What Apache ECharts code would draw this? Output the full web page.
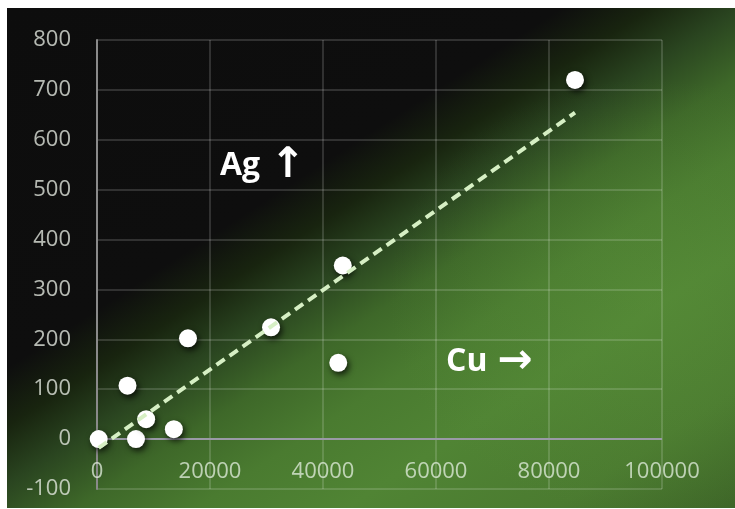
<!DOCTYPE html>
<html><head><meta charset="utf-8">
<script src="https://cdn.jsdelivr.net/npm/echarts@6/dist/echarts.min.js"></script>
<style>
html,body{margin:0;padding:0;background:#fff;width:735px;height:509px;overflow:hidden}
#bg{position:absolute;left:7px;top:8px;width:728px;height:500px;
background:
radial-gradient(ellipse 260px 220px at 88% 58%, rgba(95,150,60,0.30), rgba(95,150,60,0) 100%),
linear-gradient(147deg,#0d0d0d 0%,#0e0e0e 37%,#18240f 43%,#2a4520 49%,#3e6829 56%,#4a7b30 64%,#508434 74%,#4b7b30 88%,#3e6628 100%);}
#chart{position:absolute;left:0;top:0;width:735px;height:509px}
</style></head><body>
<div id="bg"></div><div id="chart"></div>
<script>
// Cu (x) and Ag (y) values
const cuValues = [300, 5400, 6900, 8700, 13600, 16100, 30800, 43500, 42700, 84600];
const agValues = [0, 107, 0, 40, 20, 202, 224, 348, 153, 720];
// tick labels
const xTickLabels = ['0', '20000', '40000', '60000', '80000', '100000'];
const yTickLabels = ['-100', '0', '100', '200', '300', '400', '500', '600', '700', '800'];
const annotations = [['Ag', '↑'], ['Cu', '→']];

const xT = xTickLabels.map(Number), yT = yTickLabels.map(Number);
const points = cuValues.map((x, i) => [x, agValues[i]]);

// linear trendline (least squares) from the data
const n = cuValues.length;
const mx = cuValues.reduce((a, b) => a + b, 0) / n;
const my = agValues.reduce((a, b) => a + b, 0) / n;
let sxy = 0, sxx = 0;
for (let i = 0; i < n; i++) { sxy += (cuValues[i] - mx) * (agValues[i] - my); sxx += (cuValues[i] - mx) ** 2; }
const slope = sxy / sxx, icpt = my - slope * mx;
const xMin = Math.min(...cuValues), xMax = Math.max(...cuValues);
const trend = [[xMin, icpt + slope * xMin], [xMax, icpt + slope * xMax]];

const FONT = '"Open Sans", "DejaVu Sans", sans-serif';
const rich = {
  t: {fontFamily: FONT, fontWeight: 'bold', fontSize: 32, fill: '#ffffff', lineHeight: 44, verticalAlign: 'middle'},
  a: {fontFamily: '"DejaVu Sans", sans-serif', fontWeight: 'bold', fontSize: 42, fill: '#ffffff', lineHeight: 44, verticalAlign: 'middle', padding: [0, 0, 0, 10]}
};
const chart = echarts.init(document.getElementById('chart'), null, {renderer: 'canvas'});
chart.setOption({
  backgroundColor: 'transparent',
  animation: false,
  grid: {left: 97, top: 40, right: 73, bottom: 20, containLabel: false, outerBoundsMode: 'none'},
  xAxis: {
    type: 'value', min: xT[0], max: xT[xT.length - 1], interval: xT[1] - xT[0],
    axisLine: {show: false, onZero: false},
    axisTick: {show: false},
    axisLabel: {color: 'rgba(230,240,225,0.75)', fontFamily: FONT, fontSize: 22, margin: -28,
      formatter: v => xTickLabels[xT.indexOf(v)] ?? ''},
    splitLine: {show: true, lineStyle: {color: 'rgba(255,255,255,0.15)', width: 2}}
  },
  yAxis: {
    type: 'value', min: yT[0], max: yT[yT.length - 1], interval: yT[1] - yT[0],
    axisLine: {show: true, onZero: false, lineStyle: {color: '#8a8a8a', width: 2}},
    axisTick: {show: false},
    axisLabel: {color: 'rgba(230,235,225,0.78)', fontFamily: FONT, fontSize: 22, margin: 26,
      formatter: v => yTickLabels[yT.indexOf(v)] ?? ''},
    splitLine: {show: true, lineStyle: {color: 'rgba(255,255,255,0.15)', width: 2}}
  },
  series: [
    {
      type: 'scatter', data: points, symbol: 'circle', symbolSize: 18, clip: false, z: 2,
      itemStyle: {color: '#ffffff', opacity: 1, shadowBlur: 6, shadowColor: 'rgba(0,0,0,0.75)', shadowOffsetX: 2, shadowOffsetY: 3},
      markLine: {
        silent: true, symbol: 'none', animation: false, z: 1,
        label: {show: false},
        lineStyle: {color: '#9a9aa6', width: 2, type: 'solid'},
        data: [{yAxis: 0}]
      }
    },
    {
      type: 'line', data: trend, showSymbol: false, symbol: 'none', z: 3, silent: true,
      lineStyle: {color: '#d6efc4', width: 4, type: [10, 6], cap: 'butt'}
    }
  ],
  graphic: [
    {type: 'text', left: 220, top: 145, style: {text: '{t|' + annotations[0][0] + '}{a|' + annotations[0][1] + '}', rich: rich}},
    {type: 'text', left: 446, top: 341, style: {text: '{t|' + annotations[1][0] + '}{a|' + annotations[1][1] + '}', rich: rich}}
  ]
});
</script>
</body></html>
